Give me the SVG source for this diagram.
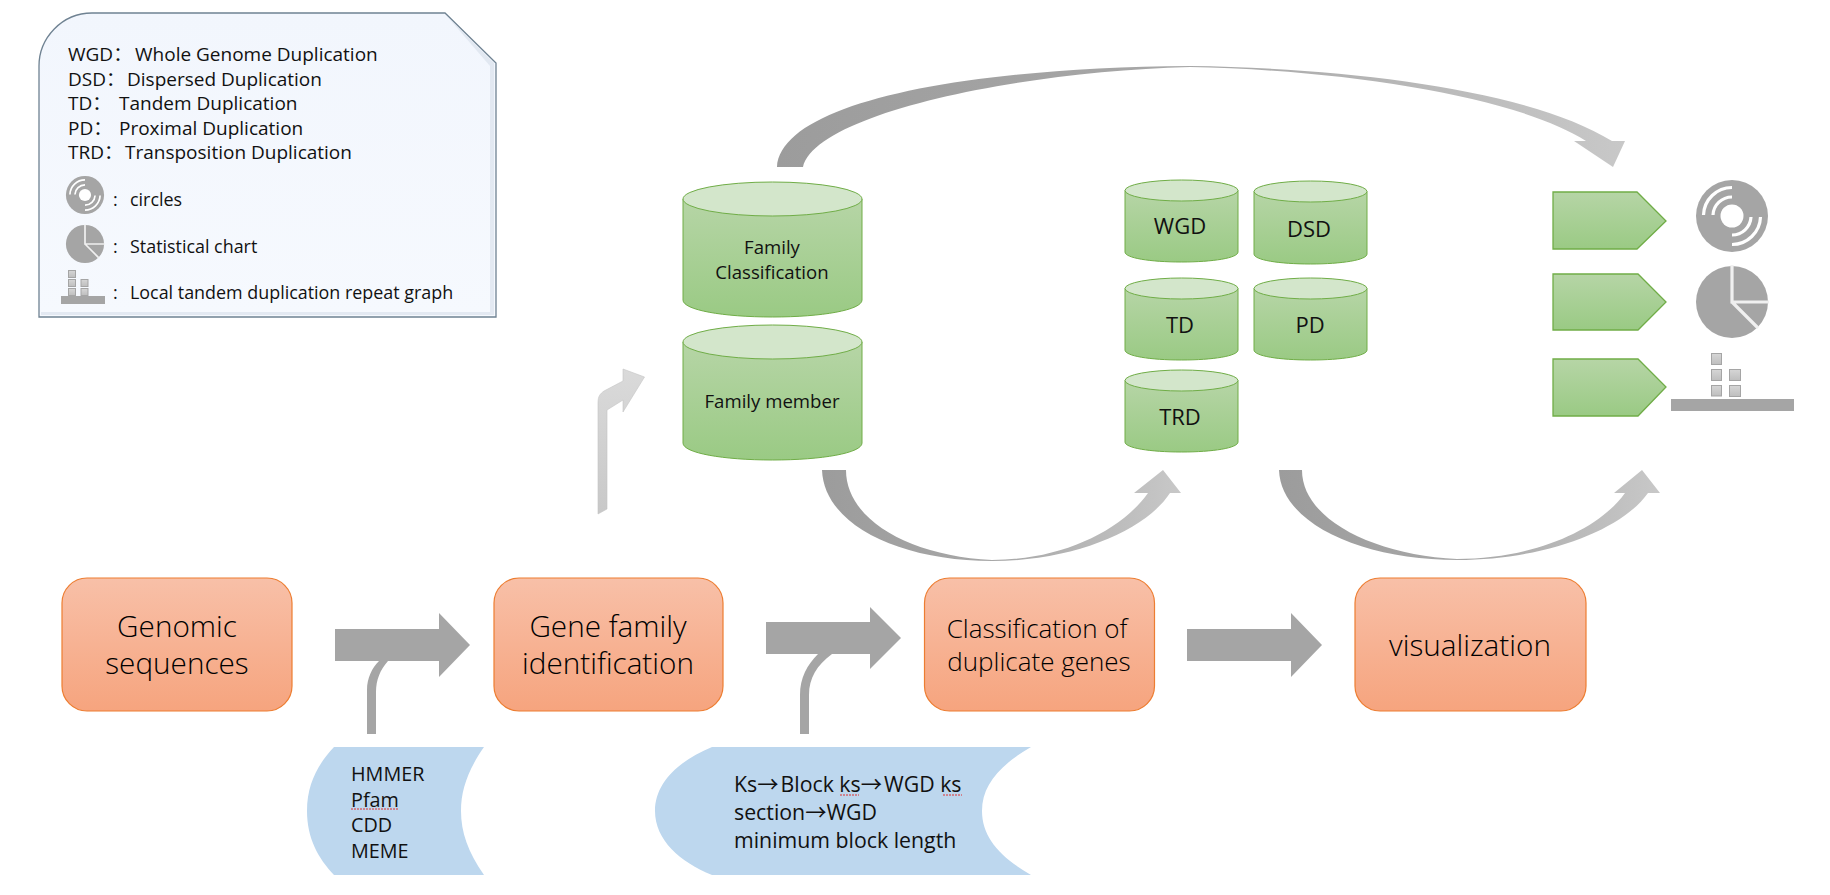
<svg xmlns="http://www.w3.org/2000/svg" width="1830" height="895" viewBox="0 0 1830 895">
<style>
text{font-family:"Open Sans","Noto Sans CJK SC",sans-serif;font-weight:400;fill:#111}
.l{font-size:19px}.k{font-size:17.900px}.c{font-size:18.600px;text-anchor:middle}.s{font-size:22px;text-anchor:middle}.b{font-size:29.700px;text-anchor:middle;font-weight:300;fill:#000}.m{font-size:26px;text-anchor:middle;font-weight:300;fill:#000}.t{font-size:19.800px}.u{font-size:21.300px}
.g{fill:#A5A5A5}.sq{fill:url(#gs);stroke:#A5A5A5;stroke-width:1}
.cb{fill:url(#gg);stroke:#70AD47;stroke-width:1}.ct{fill:#D3E6CB;stroke:#70AD47;stroke-width:1}
.o{fill:url(#go);stroke:#ED7D31;stroke-width:1.2}.p{fill:url(#gg);stroke:#70AD47;stroke-width:1.3}
.w{fill:none;stroke:#fff;stroke-width:3.2}.bl{fill:#BDD7EE}.sp{fill:none;stroke:#E03030;stroke-width:1;stroke-dasharray:2 1}
</style>
<defs>
<linearGradient id="go" x1="0" y1="0" x2="0" y2="1"><stop offset="0" stop-color="#F8C0A8"/><stop offset="1" stop-color="#F6A47E"/></linearGradient>
<linearGradient id="gg" x1="0" y1="0" x2="0" y2="1"><stop offset="0" stop-color="#B6D5A6"/><stop offset="1" stop-color="#9ACA84"/></linearGradient>
<linearGradient id="gs" x1="0" y1="0" x2="0" y2="1"><stop offset="0" stop-color="#D6D6D6"/><stop offset="1" stop-color="#BEBEBE"/></linearGradient>
<linearGradient id="ga" x1="0" y1="0" x2="1" y2="0"><stop offset="0" stop-color="#9C9C9C"/><stop offset=".5" stop-color="#A8A8A8"/><stop offset="1" stop-color="#C8C8C8"/></linearGradient>
<linearGradient id="gu" x1="0" y1="1" x2="0" y2="0"><stop offset="0" stop-color="#C8C8C8"/><stop offset="1" stop-color="#DADADA"/></linearGradient>
<linearGradient id="gl" x1="0" y1="0" x2="0" y2="1"><stop offset="0" stop-color="#F2F6FD"/><stop offset="1" stop-color="#F6F9FE"/></linearGradient>
<g id="disc"><circle r="36" class="g"/><circle r="11.500" fill="#fff"/><path class="w" d="M-19 -1A19 19 0 0 1 0 -19M-28.500 -1A28.500 28.500 0 0 1 0 -28.500M19 1A19 19 0 0 1 0 19M28.500 1A28.500 28.500 0 0 1 0 28.500"/></g>
<g id="pie"><circle r="36" class="g"/><path d="M0 -37V0H37M0 0L26 26" fill="none" stroke="#F0F0F0" stroke-width="3.200"/></g>
</defs>

<g id="legend">
<path d="M39 317V66C39 38 62 13 92 13H445L496 63V317Z" fill="url(#gl)" stroke="#6F8292" stroke-width="1.300"/>
<path d="M446 15L494 63V315H41V312H490V66Z" fill="#D4DCE8" opacity=".55"/>
<text class="l" x="68" y="61">WGD：<tspan x="135">Whole Genome Duplication</tspan></text>
<text class="l" x="68" y="86">DSD：<tspan x="127">Dispersed Duplication</tspan></text>
<text class="l" x="68" y="110">TD：<tspan x="119">Tandem Duplication</tspan></text>
<text class="l" x="68" y="135">PD：<tspan x="119">Proximal Duplication</tspan></text>
<text class="l" x="68" y="159">TRD：<tspan x="125">Transposition Duplication</tspan></text>
<use href="#disc" transform="translate(85 195) scale(.53)"/>
<use href="#pie" transform="translate(85 244) scale(.53)"/>
<g><rect class="sq" x="68.500" y="270.500" width="7" height="7"/><rect class="sq" x="68.500" y="279.500" width="7" height="7"/><rect class="sq" x="68.500" y="288.500" width="7" height="7"/><rect class="sq" x="81" y="279.500" width="7" height="7"/><rect class="sq" x="81" y="288.500" width="7" height="7"/><rect class="g" x="61" y="296" width="44" height="8"/></g>
<text class="k" x="113" y="206">:</text><text class="k" x="130" y="206">circles</text>
<text class="k" x="113" y="253">:</text><text class="k" x="130" y="253">Statistical chart</text>
<text class="k" x="113" y="299">:</text><text class="k" x="130" y="299">Local tandem duplication repeat graph</text>
</g>

<g id="connectors">
<path fill="url(#ga)" d="M777 167C781 105 950 68 1190 66C1350 68 1530 90 1612 141H1625L1613 167L1574 141H1586C1520 98 1350 70 1190 67C1010 72 815 115 803 167Z"/>
<path fill="url(#gu)" stroke="#C4C4C4" stroke-width=".6" d="M598 514V403C598 396 600 394 604 391L623 381V369L644.500 377L623 412V400L607 410V509Z"/>
<path fill="url(#ga)" d="M822 470C824 525 900 561 992 561C1075 561 1146 530 1170 493H1181L1163 470L1134 493H1148C1120 532 1060 560 992 560C910 556 846 520 846 470Z"/>
<path fill="url(#ga)" d="M1279 470C1281 525 1365 560 1457 560C1545 560 1622 530 1648 493H1660L1642 470L1614 493H1625C1597 532 1530 559 1457 559C1375 555 1302 520 1302 470Z"/>
<path class="g" d="M335 629H439V613L470 645L439 677V661H335Z"/>
<path class="g" d="M367 734V690C367 678 372 668 379 661H388C380 670 376 680 376 692V734Z"/>
<path class="g" d="M766 622H870V607L901 638L870 669V654H766Z"/>
<path class="g" d="M800 734V695C800 678 807 665 818 654H832C817 665 809 678 809 695V734Z"/>
<path class="g" d="M1187 629H1291V613L1322 645L1291 677V661H1187Z"/>
</g>

<g id="n-genomic"><rect class="o" x="62" y="578" width="230" height="133" rx="25"/><text class="b" x="177" y="637">Genomic</text><text class="b" x="177" y="674">sequences</text></g>
<g id="n-gene"><rect class="o" x="494" y="578" width="229" height="133" rx="25"/><text class="b" x="608" y="637">Gene family</text><text class="b" x="608" y="674">identification</text></g>
<g id="n-class"><rect class="o" x="924.500" y="578" width="230" height="133" rx="25"/><text class="m" x="1037" y="638">Classification of</text><text class="m" x="1039" y="671">duplicate genes</text></g>
<g id="n-vis"><rect class="o" x="1355" y="578" width="231" height="133" rx="25"/><text class="b" x="1470" y="656">visualization</text></g>

<g id="n-hmmer"><path class="bl" d="M334 747H484C468 770 461 790 461 811S468 852 484 875H334C318 858 307 838 307 811S318 764 334 747Z"/>
<text class="t" x="351" y="781">HMMER</text><text class="t" x="351" y="807">Pfam</text><text class="t" x="351" y="832">CDD</text><text class="t" x="351" y="858">MEME</text><path class="sp" d="M351 809H399"/></g>
<g id="n-ks"><path class="bl" d="M712 747H1031C1000 765 982 785 982 811S1000 857 1031 875H712C680 862 655 840 655 811S680 760 712 747Z"/>
<text class="u" x="734" y="792">Ks→<tspan x="780.500">Block ks→</tspan><tspan x="884">WGD ks</tspan></text><text class="u" x="734" y="820">section→WGD</text><text class="u" x="734" y="848">minimum block length</text><path class="sp" d="M840 795H859M943 795H962"/></g>

<g id="n-family-class"><path class="cb" d="M683 199V300C683 310 723 317 772.500 317S862 310 862 300V199Z"/><ellipse class="ct" cx="772.500" cy="199" rx="89.500" ry="17"/><text class="c" x="772" y="254">Family</text><text class="c" x="772" y="279">Classification</text></g>
<g id="n-family-member"><path class="cb" d="M683 342V443C683 453 723 460 772.500 460S862 453 862 443V342Z"/><ellipse class="ct" cx="772.500" cy="342" rx="89.500" ry="17"/><text class="c" x="772" y="408">Family member</text></g>
<g id="n-wgd"><path class="cb" d="M1125 190.500V252C1125 258 1150 262 1181.500 262S1238 258 1238 252V190.500Z"/><ellipse class="ct" cx="1181.500" cy="190.500" rx="56.500" ry="10.500"/><text class="s" x="1180" y="234">WGD</text></g>
<g id="n-dsd"><path class="cb" d="M1254 191.500V254C1254 260 1279 264 1310.500 264S1367 260 1367 254V191.500Z"/><ellipse class="ct" cx="1310.500" cy="191.500" rx="56.500" ry="10.500"/><text class="s" x="1309" y="237">DSD</text></g>
<g id="n-td"><path class="cb" d="M1125 288.500V350C1125 356 1150 360 1181.500 360S1238 356 1238 350V288.500Z"/><ellipse class="ct" cx="1181.500" cy="288.500" rx="56.500" ry="10.500"/><text class="s" x="1180" y="333">TD</text></g>
<g id="n-pd"><path class="cb" d="M1254 288.500V350C1254 356 1279 360 1310.500 360S1367 356 1367 350V288.500Z"/><ellipse class="ct" cx="1310.500" cy="288.500" rx="56.500" ry="10.500"/><text class="s" x="1310" y="333">PD</text></g>
<g id="n-trd"><path class="cb" d="M1125 380.500V442C1125 448 1150 452 1181.500 452S1238 448 1238 442V380.500Z"/><ellipse class="ct" cx="1181.500" cy="380.500" rx="56.500" ry="10.500"/><text class="s" x="1180" y="425">TRD</text></g>

<g id="n-p1"><path class="p" d="M1553 192H1637L1666 221L1637 249H1553Z"/></g>
<g id="n-p2"><path class="p" d="M1553 274H1638L1666 302L1638 330H1553Z"/></g>
<g id="n-p3"><path class="p" d="M1553 359H1638L1666 387L1638 416H1553Z"/></g>
<g id="n-disc"><use href="#disc" transform="translate(1732 216)"/></g>
<g id="n-pie"><use href="#pie" transform="translate(1732 302)"/></g>
<g id="n-repeat"><rect class="sq" x="1711.500" y="353.500" width="10" height="11"/><rect class="sq" x="1711.500" y="369.500" width="10" height="11"/><rect class="sq" x="1711.500" y="385.500" width="10" height="10.500"/><rect class="sq" x="1729.500" y="369.500" width="11" height="11"/><rect class="sq" x="1729.500" y="385.500" width="11" height="11"/><rect class="g" x="1671" y="399" width="123" height="12"/></g>
</svg>
